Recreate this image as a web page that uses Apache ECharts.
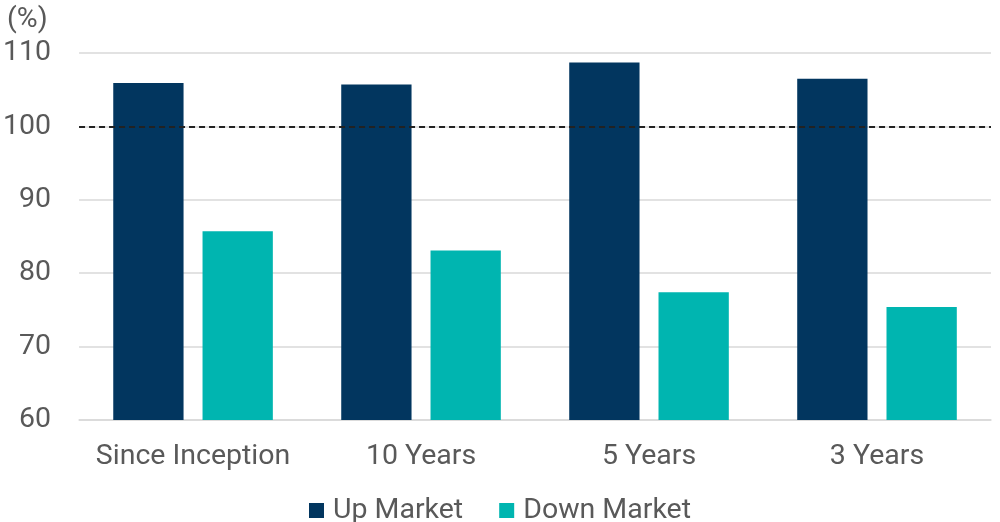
<!DOCTYPE html>
<html lang="en">
<head>
    <meta charset="UTF-8">
    <title>Up / Down Market Capture</title>
    <script src="https://cdn.jsdelivr.net/npm/echarts@6/dist/echarts.min.js"></script>
    <style>
        html, body { margin: 0; padding: 0; background: #fff; }
        #main { width: 1000px; height: 522px; }
    </style>
</head>
<body>
    <div id="main"></div>
    <script type="text/javascript">
        const categories = ['Since Inception', '10 Years', '5 Years', '3 Years'];
        const upMarket = [105.9, 105.7, 108.7, 106.5];
        const downMarket = [85.7, 83.1, 77.4, 75.4];
        const refLine = 100;

        const chart = echarts.init(document.getElementById('main'));
        const textColor = '#595959';
        const font = 'Roboto';
        const fs = 28.5;

        option = {
            animation: false,
            title: {
                text: '(%)',
                left: 2,
                top: 0,
                textStyle: { fontFamily: font, fontSize: fs, fontWeight: 'normal', color: textColor }
            },
            legend: {
                bottom: -8,
                left: 'center',
                itemWidth: 15,
                itemHeight: 15,
                itemGap: 36,
                icon: 'rect',
                textStyle: { fontFamily: font, fontSize: fs, color: textColor, padding: [0, 0, 0, 4] },
                data: ['Up Market', 'Down Market']
            },
            grid: {
                left: 78,
                right: 9,
                top: 53,
                bottom: 102
            },
            xAxis: {
                type: 'category',
                data: categories,
                axisTick: { show: false },
                axisLine: { lineStyle: { color: '#d9d9d9', width: 1.5 } },
                axisLabel: { interval: 0, margin: 22, fontFamily: font, fontSize: fs, color: textColor }
            },
            yAxis: {
                type: 'value',
                min: 60,
                max: 110,
                interval: 10,
                splitLine: { lineStyle: { color: '#d9d9d9', width: 1.5 } },
                axisLabel: { margin: 28, fontFamily: font, fontSize: fs, color: textColor }
            },
            series: [
                {
                    name: 'Up Market',
                    type: 'bar',
                    data: upMarket,
                    barGap: '27%',
                    barCategoryGap: '30%',
                    itemStyle: { color: '#02365F' },
                    markLine: {
                        silent: true,
                        symbol: 'none',
                        label: { show: false },
                        lineStyle: { color: '#222', type: [6, 4], width: 1.8 },
                        data: [{ yAxis: refLine }]
                    },
                    z: 2
                },
                {
                    name: 'Down Market',
                    type: 'bar',
                    data: downMarket,
                    itemStyle: { color: '#00B5B0' }
                }
            ]
        };
        chart.setOption(option);
    </script>
</body>
</html>
